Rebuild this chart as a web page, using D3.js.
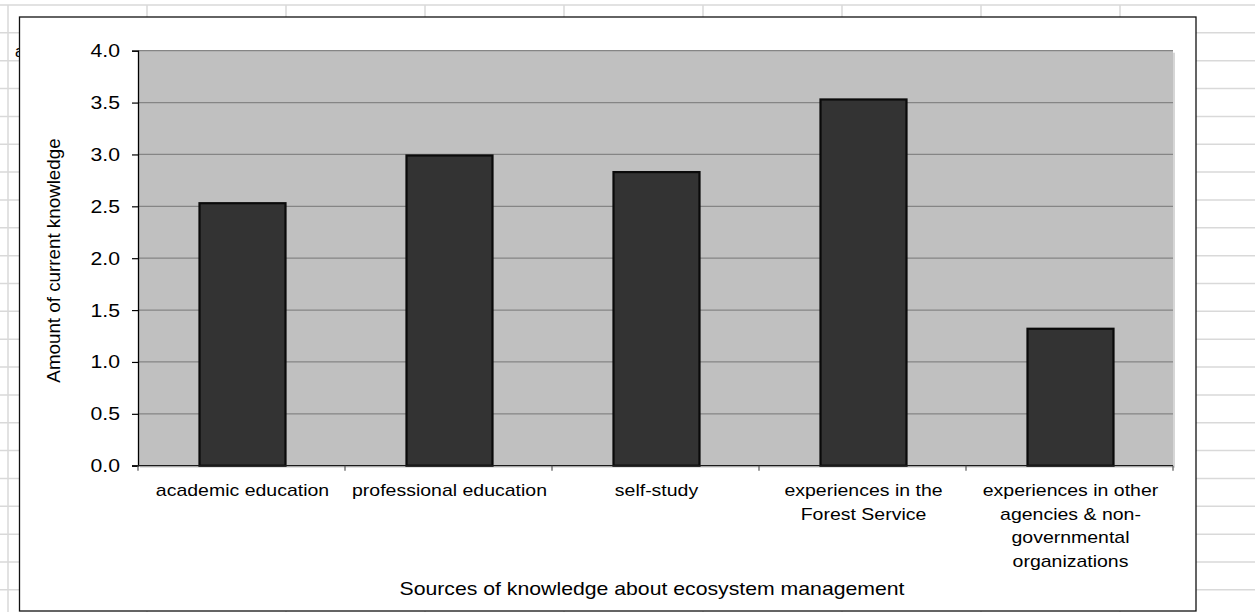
<!DOCTYPE html>
<html>
<head>
<meta charset="utf-8">
<script src="https://cdn.jsdelivr.net/npm/d3@7/dist/d3.min.js"></script>
<style>
  html, body { margin: 0; padding: 0; background: #fff; }
  svg { display: block; }
  text { font-family: "Liberation Sans", Arial, Helvetica, sans-serif; fill: #000; }
</style>
</head>
<body>
<svg id="chart" width="1255" height="612"></svg>
<script>
// Sources of knowledge (category labels, "\n" marks a line break)
const categories = [
  "academic education",
  "professional education",
  "self-study",
  "experiences in the\nForest Service",
  "experiences in other\nagencies & non-\ngovernmental\norganizations"
];
// Mean amount of current knowledge per source
const values = [2.53, 2.99, 2.83, 3.53, 1.32];
// Value axis ticks
const yTicks = [0, 0.5, 1, 1.5, 2, 2.5, 3, 3.5, 4];
const yTitle = "Amount of current knowledge";
const xTitle = "Sources of knowledge about ecosystem management";

const W = 1255, H = 612;
const svg = d3.select("#chart");

// ---- worksheet backdrop ----
const sheet = svg.append("g");
const colStep = 139, rowStep = 27.85;
const colXs = d3.range(8, W + 1, colStep);
const rowYs = d3.range(5, H + 1, rowStep);
sheet.selectAll("line.col").data(colXs).join("line")
  .attr("x1", d => d).attr("x2", d => d).attr("y1", 5).attr("y2", H)
  .attr("stroke", "#d9d9d9").attr("stroke-width", 1.5);
sheet.selectAll("line.row").data(rowYs).join("line")
  .attr("x1", 0).attr("x2", W).attr("y1", d => d).attr("y2", d => d)
  .attr("stroke", "#d9d9d9").attr("stroke-width", 1.5);
sheet.append("text").attr("x", 15).attr("y", 57)
  .style("font-size", "16px").text("a");

// ---- chart object frame ----
svg.append("rect")
  .attr("x", 19.5).attr("y", 17).attr("width", 1176.5).attr("height", 594)
  .attr("fill", "#fff").attr("stroke", "#111").attr("stroke-width", 1.3);

// ---- plot area ----
const plot = { left: 138, right: 1173, top: 50.7, bottom: 465.7 };

const x = d3.scaleBand()
  .domain(categories)
  .range([plot.left, plot.right])
  .paddingInner(0.5845)
  .paddingOuter(0.5845 / 2);

const y = d3.scaleLinear()
  .domain([0, 4])
  .range([plot.bottom, plot.top]);

// soft shadow on the right/bottom of the plot area
svg.append("rect")
  .attr("x", plot.left + 2).attr("y", plot.top + 2)
  .attr("width", plot.right - plot.left).attr("height", plot.bottom - plot.top)
  .attr("fill", "#d6d6d6");
svg.append("rect")
  .attr("x", plot.left).attr("y", plot.top)
  .attr("width", plot.right - plot.left).attr("height", plot.bottom - plot.top)
  .attr("fill", "#c0c0c0");

// horizontal gridlines
svg.append("g")
  .selectAll("line").data(yTicks.filter(t => t > 0)).join("line")
  .attr("x1", plot.left).attr("x2", plot.right)
  .attr("y1", d => y(d)).attr("y2", d => y(d))
  .attr("stroke", "#858585").attr("stroke-width", 1.2);

// bars
svg.append("g")
  .selectAll("rect").data(categories).join("rect")
  .attr("x", d => x(d) + 1)
  .attr("width", x.bandwidth())
  .attr("y", (d, i) => y(values[i]))
  .attr("height", (d, i) => y(0) - y(values[i]))
  .attr("fill", "#333333")
  .attr("stroke", "#0a0a0a")
  .attr("stroke-width", 2.2);

// ---- value axis ----
const yAxis = svg.append("g")
  .attr("transform", `translate(${plot.left},0)`)
  .call(d3.axisLeft(y).tickValues(yTicks).tickSize(6).tickFormat(d3.format(".1f")));
yAxis.select(".domain").attr("stroke", "#000").attr("stroke-width", 1.3);
yAxis.selectAll(".tick line").attr("stroke", "#000").attr("stroke-width", 1.2);
yAxis.selectAll(".tick text").remove();

// tick labels, drawn slightly wide like the rest of the sheet text
const SX = 1.18;
svg.append("g").selectAll("g").data(yTicks).join("g")
  .attr("transform", d => `translate(120,${y(d) + 6.5}) scale(1.14,1)`)
  .append("text")
  .attr("text-anchor", "end")
  .style("font-size", "18.6px")
  .text(d => d3.format(".1f")(d));

// ---- category axis ----
const xAxis = svg.append("g")
  .attr("transform", `translate(0,${plot.bottom})`);
xAxis.append("line")
  .attr("x1", plot.left - 6).attr("x2", plot.right)
  .attr("y1", 0).attr("y2", 0)
  .attr("stroke", "#1a1a1a").attr("stroke-width", 1.3);
const step = x.step();
const boundaries = d3.range(categories.length + 1).map(i => plot.left + i * step);
xAxis.selectAll("line.tk").data(boundaries).join("line")
  .attr("class", "tk")
  .attr("x1", d => d).attr("x2", d => d)
  .attr("y1", 0).attr("y2", 5)
  .attr("stroke", "#555").attr("stroke-width", 1.2);

// wrapped category labels
const labels = svg.append("g").selectAll("g").data(categories).join("g")
  .attr("transform", d => `translate(${x(d) + x.bandwidth() / 2 + 1},496) scale(1.12,1)`);
labels.each(function(d) {
  const t = d3.select(this).append("text")
    .attr("text-anchor", "middle")
    .style("font-size", "17.4px");
  d.split("\n").forEach((line, i) => {
    t.append("tspan").attr("x", 0).attr("y", i * 23.6).text(line);
  });
});

// axis titles
svg.append("g")
  .attr("transform", `translate(652,595) scale(${SX},1)`)
  .append("text")
  .attr("text-anchor", "middle")
  .style("font-size", "18px")
  .text(xTitle);

svg.append("g")
  .attr("transform", "translate(59.5,260.5) rotate(-90)")
  .append("text")
  .attr("text-anchor", "middle")
  .style("font-size", "18.8px")
  .text(yTitle);
</script>
</body>
</html>
